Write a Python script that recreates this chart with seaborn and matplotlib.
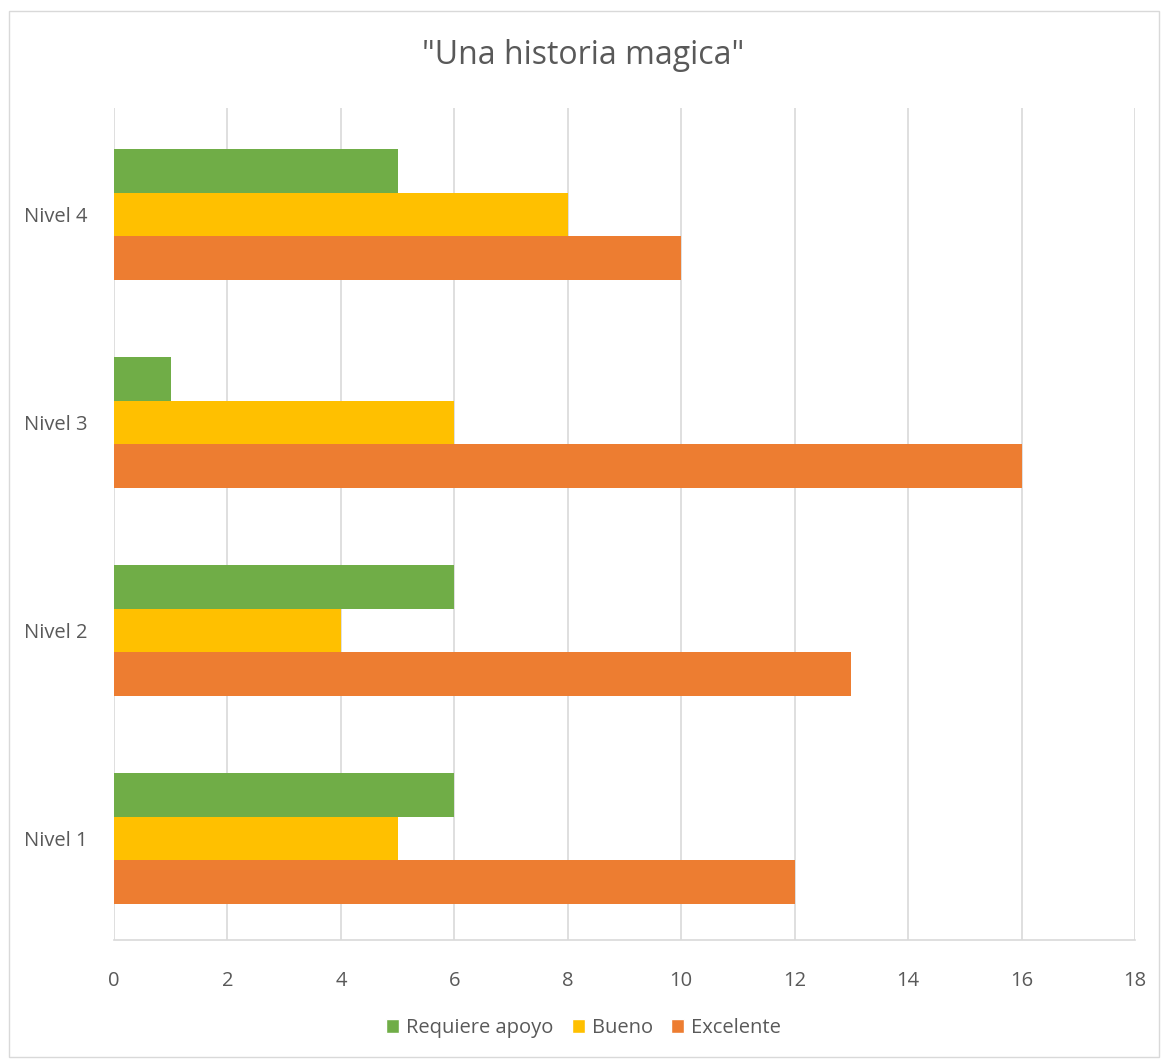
import pandas as pd
import matplotlib.pyplot as plt
import seaborn as sns
from matplotlib.patches import Rectangle, Patch

# data
niveles = ['Nivel 1', 'Nivel 2', 'Nivel 3', 'Nivel 4']
series = ['Requiere apoyo', 'Bueno', 'Excelente']
requiere_apoyo = [6, 6, 1, 5]
bueno = [5, 4, 6, 8]
excelente = [12, 13, 16, 10]
colores = ['#70AD47', '#FFC000', '#ED7D31']

rows = []
for i, n in enumerate(niveles):
    rows.append((n, 'Requiere apoyo', requiere_apoyo[i]))
    rows.append((n, 'Bueno', bueno[i]))
    rows.append((n, 'Excelente', excelente[i]))
df = pd.DataFrame(rows, columns=['nivel', 'serie', 'valor'])

sns.set_style('white')
plt.rcParams['font.family'] = ['Open Sans', 'DejaVu Sans']
txt = '#595959'

fig = plt.figure(figsize=(11.67, 10.61), dpi=100)
ax = fig.add_axes([114 / 1167, 1 - 940 / 1061, (1135 - 114) / 1167, (940 - 108) / 1061])

sns.barplot(data=df, x='valor', y='nivel', hue='serie', orient='h',
            order=niveles[::-1], hue_order=series, palette=colores,
            width=0.63, gap=0, saturation=1, linewidth=0, ax=ax,
            legend=False, zorder=3)

ax.set_xlim(0, 18)
ax.set_ylim(3.488, -0.512)
ax.set_xticks(range(0, 19, 2))
ax.grid(axis='x', color='#D9D9D9', linewidth=1.2, zorder=0)
ax.set_axisbelow(True)
for s in ['top', 'right', 'left']:
    ax.spines[s].set_visible(False)
ax.spines['bottom'].set_color('#D9D9D9')
ax.spines['bottom'].set_linewidth(1.2)
ax.tick_params(length=0, labelsize=14.5, colors=txt)
ax.tick_params(axis='x', pad=22)
ax.tick_params(axis='y', pad=19)
ax.set_xlabel('')
ax.set_ylabel('')

fig.text(0.5, 1 - 55 / 1061, '"Una historia magica"', ha='center', va='center',
         fontsize=23, color=txt)

handles = [Patch(facecolor=c, label=s) for c, s in zip(colores, series)]
fig.legend(handles=handles, loc='center', bbox_to_anchor=(0.5, 1 - 1028 / 1061),
           ncol=3, frameon=False, fontsize=14.5, handlelength=0.65, handleheight=0.65,
           handletextpad=0.35, columnspacing=0.9, labelcolor=txt)

fig.patches.append(Rectangle((9 / 1167, 4 / 1061), 1150 / 1167, 1046 / 1061,
                             transform=fig.transFigure, fill=False,
                             edgecolor='#D9D9D9', linewidth=1))

fig.savefig('out.png', dpi=100)
